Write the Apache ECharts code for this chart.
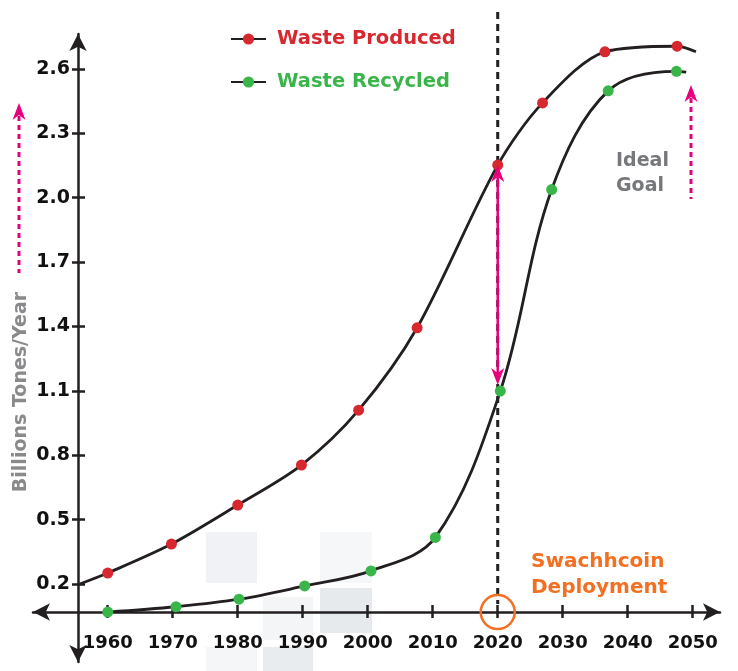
<!DOCTYPE html>
<html>
<head>
<meta charset="utf-8">
<script src="https://cdn.jsdelivr.net/npm/echarts@6/dist/echarts.min.js"></script>
<style>
  html, body { margin: 0; padding: 0; background: #fff; }
  #chart { width: 738px; height: 671px; }
</style>
</head>
<body>
<div id="chart"></div>
<script>
// data
const xTicks = [1960, 1970, 1980, 1990, 2000, 2010, 2020, 2030, 2040, 2050]
const yTicks = [0.2, 0.5, 0.8, 1.1, 1.4, 1.7, 2.0, 2.3, 2.6]

const producedYears = [1960, 1969.8, 1980, 1989.8, 1998.6, 2007.6, 2020, 2026.9, 2036.5, 2047.6]
const producedValues = [0.251, 0.386, 0.568, 0.754, 1.010, 1.394, 2.152, 2.442, 2.680, 2.706]
const producedStart = [1955.7, 0.2]
const producedEnd = [2050.5, 2.68]

const recycledYears = [1960, 1970.5, 1980.2, 1990.3, 2000.5, 2010.4, 2020.4, 2028.3, 2037, 2047.5]
const recycledValues = [0.069, 0.094, 0.129, 0.191, 0.261, 0.417, 1.099, 2.038, 2.498, 2.589]
const recycledEnd = [2049, 2.585]

const deployYear = 2020

const RED = '#d7282f'
const GREEN = '#3ab54a'
const MAGENTA = '#e6007e'
const ORANGE = '#f36f21'
const INK = '#231f20'
const FONT = 'DejaVu Sans'

// 曲线数据：端点不画圆点
const buildCurve = (years, values, start, end) => {
  const out = []
  if (start) out.push({ value: start, symbol: 'none' })
  years.forEach((y, i) => out.push({ value: [y, values[i]] }))
  if (end) out.push({ value: end, symbol: 'none' })
  return out
}

const chart = echarts.init(document.getElementById('chart'), null, { renderer: 'canvas' })

const xMin = 1948.5, xMax = 2054.2
const yMin = -0.1635, yMax = 2.763

const baseX = {
  type: 'value', min: xMin, max: xMax, position: 'bottom', offset: -50,
  splitLine: { show: false }
}
const baseY = {
  type: 'value', min: yMin, max: yMax, position: 'left', offset: -45,
  splitLine: { show: false }
}

chart.setOption({
  animation: false,
  grid: { left: 33, right: 18, top: 34, bottom: 9 },
  legend: {
    orient: 'vertical',
    left: 230,
    top: 28,
    padding: 0,
    itemWidth: 35,
    itemHeight: 14,
    itemGap: 21,
    textStyle: { fontSize: 19.5, fontWeight: 'bold', fontFamily: FONT, lineHeight: 22, padding: [0, 0, 0, 6] },
    data: [
      { name: 'Waste Produced', textStyle: { color: RED } },
      { name: 'Waste Recycled', textStyle: { color: GREEN } }
    ]
  },
  xAxis: [
    Object.assign({}, baseX, {
      axisLine: { show: true, lineStyle: { color: INK, width: 2.5 }, symbol: ['arrow', 'arrow'], symbolSize: [13, 17] },
      axisTick: { show: true, length: 6, customValues: xTicks, lineStyle: { color: INK, width: 2.5 } },
      axisLabel: {
        customValues: xTicks, margin: 22, color: '#111', fontSize: 18, fontWeight: 'bold', fontFamily: FONT,
        formatter: v => String(v)
      }
    }),
    Object.assign({}, baseX, {
      axisLine: { show: false },
      axisTick: { show: true, inside: true, length: 7, customValues: xTicks, lineStyle: { color: INK, width: 2.5 } },
      axisLabel: { show: false }
    })
  ],
  yAxis: [
    Object.assign({}, baseY, {
      axisLine: { show: true, lineStyle: { color: INK, width: 2.5 }, symbol: ['arrow', 'arrow'], symbolSize: [13, 17] },
      axisTick: { show: true, length: 6, customValues: yTicks, lineStyle: { color: INK, width: 2.5 } },
      axisLabel: {
        customValues: yTicks, margin: 8, color: '#111', fontSize: 19, fontWeight: 'bold', fontFamily: FONT,
        formatter: v => v.toFixed(1)
      }
    }),
    Object.assign({}, baseY, {
      axisLine: { show: false },
      axisTick: { show: true, inside: true, length: 7, customValues: yTicks, lineStyle: { color: INK, width: 2.5 } },
      axisLabel: { show: false }
    })
  ],
  series: [
    {
      name: 'Waste Produced',
      type: 'line',
      smooth: 0.3,
      symbol: 'circle',
      symbolSize: 11,
      itemStyle: { color: RED },
      lineStyle: { color: INK, width: 2.8 },
      z: 3,
      data: buildCurve(producedYears, producedValues, producedStart, producedEnd)
    },
    {
      name: 'Waste Recycled',
      type: 'line',
      smooth: 0.35,
      symbol: 'circle',
      symbolSize: 11,
      itemStyle: { color: GREEN },
      lineStyle: { color: INK, width: 2.8 },
      z: 3,
      data: buildCurve(recycledYears, recycledValues, null, recycledEnd)
    }
  ]
})

// 注释图形（位置由坐标换算）
const px = (x, y) => chart.convertToPixel({ gridIndex: 0 }, [x, y])

const arrowHead = (x, y, dir, color) => ({
  type: 'polygon',
  shape: { points: [[x, y], [x - 6.5, y + 17 * dir], [x, y + 12 * dir], [x + 6.5, y + 17 * dir]] },
  style: { fill: color },
  z: 20
})

const axisPt = px(deployYear, 0.069)
const topPt = px(deployYear, producedValues[producedYears.indexOf(deployYear)])
const botPt = px(deployYear, recycledValues[6])

const graphics = [
  // 背景浅色方块
  { type: 'rect', shape: { x: 206, y: 532, width: 51, height: 51 }, style: { fill: '#f0f2f5' }, z: -10 },
  { type: 'rect', shape: { x: 320, y: 532, width: 52, height: 51 }, style: { fill: '#f5f7f8' }, z: -10 },
  { type: 'rect', shape: { x: 320, y: 588, width: 52, height: 45 }, style: { fill: '#e7eaed' }, z: -10 },
  { type: 'rect', shape: { x: 263, y: 597, width: 50, height: 43 }, style: { fill: '#f3f5f6' }, z: -10 },
  { type: 'rect', shape: { x: 263, y: 647, width: 50, height: 24 }, style: { fill: '#e9ecef' }, z: -10 },
  { type: 'rect', shape: { x: 206, y: 647, width: 51, height: 24 }, style: { fill: '#f4f6f8' }, z: -10 },

  // 2020 竖虚线
  {
    type: 'line',
    shape: { x1: axisPt[0], y1: 12, x2: axisPt[0], y2: axisPt[1] - 8 },
    style: { stroke: INK, lineWidth: 3, lineDash: [7, 5] },
    z: 2
  },
  // 部署位置圆圈
  {
    type: 'circle',
    shape: { cx: axisPt[0], cy: axisPt[1], r: 17 },
    style: { fill: 'none', stroke: ORANGE, lineWidth: 2.5 },
    z: 20
  },
  // 双向箭头
  {
    type: 'line',
    shape: { x1: topPt[0], y1: topPt[1] + 10, x2: topPt[0], y2: botPt[1] - 14 },
    style: { stroke: MAGENTA, lineWidth: 2.5 },
    z: 20
  },
  arrowHead(topPt[0], topPt[1], 1, MAGENTA),
  arrowHead(topPt[0], botPt[1] - 6, -1, MAGENTA),

  // 左侧虚线箭头
  {
    type: 'line',
    shape: { x1: 19, y1: 116, x2: 19, y2: 273 },
    style: { stroke: MAGENTA, lineWidth: 3, lineDash: [5, 4] },
    z: 20
  },
  arrowHead(19, 103, 1, MAGENTA),
  // 右侧虚线箭头
  {
    type: 'line',
    shape: { x1: 691, y1: 98, x2: 691, y2: 199 },
    style: { stroke: MAGENTA, lineWidth: 3, lineDash: [5, 4] },
    z: 20
  },
  arrowHead(691, 85, 1, MAGENTA),

  // 文字
  {
    type: 'text',
    x: 21, y: 392, rotation: Math.PI / 2,
    style: {
      text: 'Billions Tones/Year', fill: '#8a8a8c', font: 'bold 19px "DejaVu Sans"',
      align: 'center', verticalAlign: 'middle'
    },
    z: 20
  },
  {
    type: 'text',
    x: 616, y: 174,
    style: {
      text: 'Ideal\nGoal', fill: '#77787b', font: 'bold 19px "DejaVu Sans"',
      lineHeight: 25, align: 'left', verticalAlign: 'middle'
    },
    z: 20
  },
  {
    type: 'text',
    x: 531, y: 575,
    style: {
      text: 'Swachhcoin\nDeployment', fill: ORANGE, font: 'bold 20px "DejaVu Sans"',
      lineHeight: 26, align: 'left', verticalAlign: 'middle'
    },
    z: 20
  }
]

chart.setOption({ graphic: graphics })
</script>
</body>
</html>
